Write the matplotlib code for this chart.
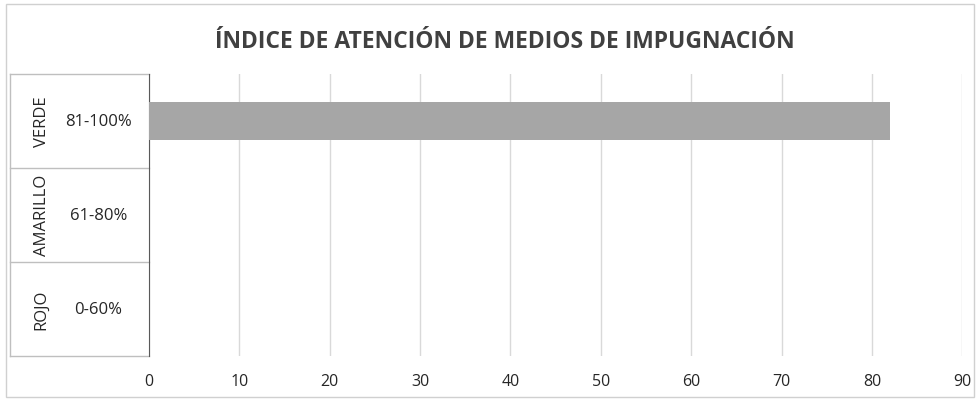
import matplotlib
matplotlib.use('Agg')
import matplotlib.pyplot as plt
import numpy as np

TITLE = "ÍNDICE DE ATENCIÓN DE MEDIOS DE IMPUGNACIÓN"
groups = ["VERDE", "AMARILLO", "ROJO"]
ranges = ["81-100%", "61-80%", "0-60%"]
values = [82, 0, 0]
xticks = [0, 10, 20, 30, 40, 50, 60, 70, 80, 90]

BAR_COLOR = '#a6a6a6'
GRID_COLOR = '#d9d9d9'
TEXT_COLOR = '#262626'

plt.rcParams.update({
    'font.family': ['Open Sans', 'DejaVu Sans'],
    'font.size': 11,
})

fig = plt.figure(figsize=(9.8, 4.02), dpi=100)
ax = fig.add_axes([0.152, 0.112, 0.830, 0.702])

y = np.arange(len(groups))[::-1]
ax.barh(y, values, height=0.41, color=BAR_COLOR, zorder=3)

ax.set_xlim(0, 90)
ax.set_ylim(-0.5, len(groups) - 0.5)
ax.set_xticks(xticks)
ax.set_xticklabels([str(t) for t in xticks], color=TEXT_COLOR, fontsize=11.5)
ax.tick_params(axis='x', length=0, pad=12)
ax.set_yticks([])
ax.grid(axis='x', color=GRID_COLOR, linewidth=1, zorder=0)

for side in ['top', 'right', 'bottom']:
    ax.spines[side].set_visible(False)
ax.spines['left'].set_color('#595959')

# two-level category table on the left
tr = ax.get_yaxis_transform()
x_left = -0.171
for b in np.arange(-0.5, len(groups), 1.0):
    ax.plot([x_left, 0], [b, b], transform=tr, color='#bfbfbf',
            linewidth=1, clip_on=False)
ax.plot([x_left, x_left], [-0.5, len(groups) - 0.5], transform=tr,
        color='#bfbfbf', linewidth=1, clip_on=False)
for yi, g, r in zip(y, groups, ranges):
    ax.text(-0.132, yi, g, transform=tr, rotation=90, ha='center',
            va='center', color=TEXT_COLOR, fontsize=12)
    ax.text(-0.062, yi, r, transform=tr, ha='center', va='center',
            color=TEXT_COLOR, fontsize=12)

fig.text(0.515, 0.895, TITLE, ha='center', va='center', fontsize=16.5,
         fontweight='bold', color='#404040')

# outer chart border
fig.patches.append(plt.Rectangle((0.006, 0.01), 0.988, 0.978,
                                 transform=fig.transFigure, fill=False,
                                 edgecolor='#d0d0d0', linewidth=1))

fig.savefig('out.png', dpi=100, facecolor='white')
